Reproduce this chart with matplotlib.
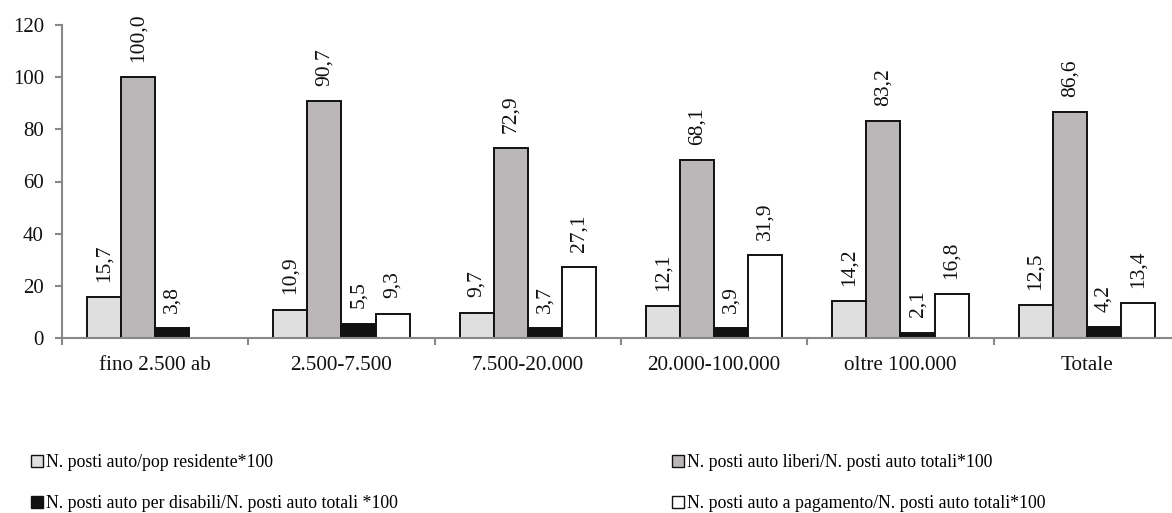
import numpy as np
import matplotlib
matplotlib.use("Agg")
import matplotlib.pyplot as plt
from matplotlib.patches import Patch

plt.rcParams['font.family'] = ['Liberation Serif', 'DejaVu Serif']

categories = ["fino 2.500 ab", "2.500-7.500", "7.500-20.000", "20.000-100.000", "oltre 100.000", "Totale"]
series_names = [
    "N. posti auto/pop residente*100",
    "N. posti auto liberi/N. posti auto totali*100",
    "N. posti auto per disabili/N. posti auto totali *100",
    "N. posti auto a pagamento/N. posti auto totali*100",
]
posti_pop = [15.7, 10.9, 9.7, 12.1, 14.2, 12.5]
posti_liberi = [100.0, 90.7, 72.9, 68.1, 83.2, 86.6]
posti_disabili = [3.8, 5.5, 3.7, 3.9, 2.1, 4.2]
posti_pagamento = [np.nan, 9.3, 27.1, 31.9, 16.8, 13.4]
y_ticks = [0, 20, 40, 60, 80, 100, 120]

series = [posti_pop, posti_liberi, posti_disabili, posti_pagamento]
colors = ["#e0dfe0", "#bbb7b8", "#111111", "#ffffff"]

W, H = 1172, 513
fig = plt.figure(figsize=(W / 100, H / 100), dpi=100)
ax = fig.add_axes([62 / W, 1 - 338 / H, (1180 - 62) / W, (338 - 25) / H])

x = np.arange(len(categories))
bw = 0.183
for i, (vals, col) in enumerate(zip(series, colors)):
    pos = x + (i - 1.5) * bw
    v = np.array(vals, dtype=float)
    ax.bar(pos, v, width=bw, color=col, edgecolor="#111111", linewidth=1.4, zorder=2)
    for p, val in zip(pos, v):
        if np.isnan(val):
            continue
        ax.annotate(f"{val:.1f}".replace(".", ","), xy=(p, val), xytext=(0, 11),
                    textcoords="offset points", rotation=90,
                    ha="center", va="bottom", fontsize=15.5, color="#111111")

ax.set_xlim(-0.5, len(categories) - 0.5)
ax.set_ylim(0, 120)
ax.set_yticks(y_ticks)
ax.tick_params(axis="y", labelsize=15, colors="#888888", labelcolor="#111111",
               length=5, width=1.5, pad=8)
ax.set_xticks(x)
ax.set_xticklabels(categories)
ax.tick_params(axis="x", which="major", length=0, labelsize=15.2, labelcolor="#111111", pad=13)
ax.set_xticks(np.arange(len(categories)) - 0.5, minor=True)
ax.tick_params(axis="x", which="minor", length=5, width=1.5, colors="#888888")
for s in ["top", "right"]:
    ax.spines[s].set_visible(False)
for s in ["left", "bottom"]:
    ax.spines[s].set_color("#888888")
    ax.spines[s].set_linewidth(1.5)
    ax.spines[s].set_zorder(3)

handles = [Patch(facecolor=c, edgecolor="#111111", linewidth=1.0) for c in colors]
order = [0, 2, 1, 3]
fig.legend([handles[i] for i in order], [series_names[i] for i in order],
           loc="upper left", bbox_to_anchor=(31 / W, 1 - 454 / H), ncol=2,
           frameon=False, fontsize=12.8, handlelength=0.7, handleheight=0.7,
           handletextpad=0.15, columnspacing=15.4, labelspacing=1.35,
           borderaxespad=0, borderpad=0)

fig.savefig("out.png", dpi=100)
